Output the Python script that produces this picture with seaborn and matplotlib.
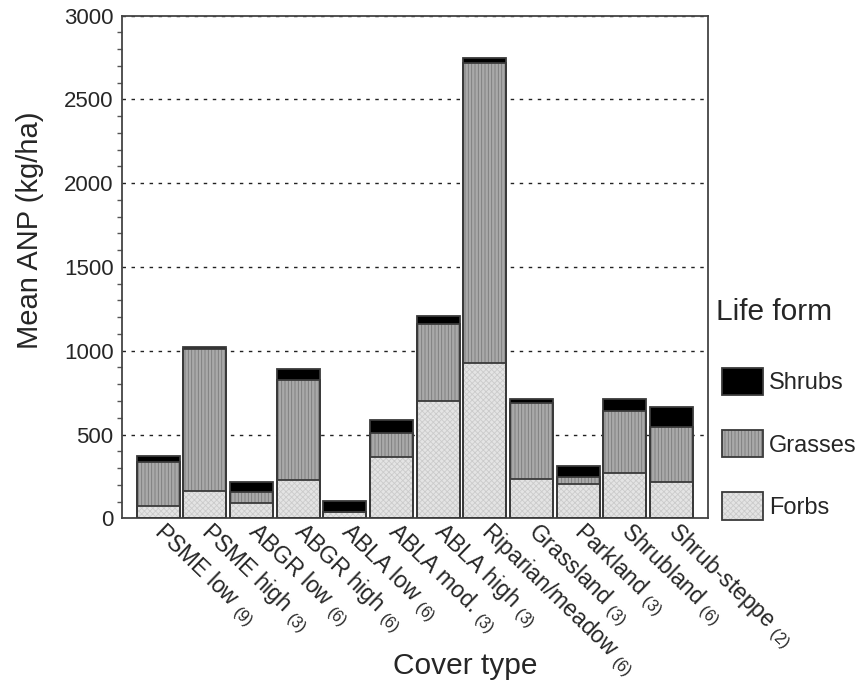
import pandas as pd
import matplotlib
matplotlib.use('Agg')
import matplotlib.pyplot as plt
import matplotlib.transforms as mtransforms
import seaborn as sns
from matplotlib.patches import Patch
from matplotlib.ticker import MultipleLocator
from matplotlib.legend_handler import HandlerTuple

# cover types and sample sizes
cover = ['PSME low', 'PSME high', 'ABGR low', 'ABGR high', 'ABLA low', 'ABLA mod.',
         'ABLA high', 'Riparian/meadow', 'Grassland', 'Parkland', 'Shrubland', 'Shrub-steppe']
n_plots = [9, 3, 6, 6, 6, 3, 3, 6, 3, 3, 6, 2]

# mean ANP by life form (kg/ha)
forbs = [76, 161, 89, 229, 36, 366, 700, 926, 237, 202, 270, 216]
grasses = [259, 847, 68, 594, 2, 144, 459, 1790, 452, 43, 370, 331]
shrubs = [37, 17, 59, 66, 67, 77, 51, 33, 21, 66, 70, 118]

df = pd.DataFrame({'cover': cover, 'forbs': forbs, 'grasses': grasses, 'shrubs': shrubs})
df['forbs_top'] = df['forbs']
df['grasses_top'] = df['forbs'] + df['grasses']
df['total'] = df['grasses_top'] + df['shrubs']

sns.set_style('white')
plt.rcParams['font.family'] = ['Liberation Sans', 'DejaVu Sans']
plt.rcParams['mathtext.fontset'] = 'custom'
plt.rcParams['mathtext.rm'] = 'Liberation Sans'
plt.rcParams['hatch.linewidth'] = 0.6

fig = plt.figure(figsize=(8.59, 6.82), dpi=100)
ax = fig.add_axes([0.1417, 0.2400, 0.6829, 0.7372])

outline = '#3a3a3a'
# (column, face colour, hatch colour, hatch) - drawn tallest first so they stack
layers = [('total', '#000000', '#000000', None),
          ('grasses_top', '#a9a9a9', '#7a7a7a', '|||||'),
          ('forbs_top', '#e4e4e4', '#cbcbcb', 'xxxxxx')]

for col, face, hcol, hatch in layers:
    sns.barplot(data=df, x='cover', y=col, color=face, saturation=1, width=0.92,
                edgecolor=hcol, linewidth=0, hatch=hatch, ax=ax, zorder=2)
    sns.barplot(data=df, x='cover', y=col, color=outline, saturation=1, width=0.92,
                fill=False, linewidth=1.3, ax=ax, zorder=3)

ax.set_xlim(-0.78, 11.79)
ax.set_ylim(0, 3000)
ax.yaxis.set_major_locator(MultipleLocator(500))
ax.yaxis.set_minor_locator(MultipleLocator(100))
ax.set_axisbelow(True)
ax.yaxis.grid(True, linestyle=(0, (2.5, 4)), color='#222222', linewidth=1.0)
ax.xaxis.grid(False)

ax.tick_params(axis='y', which='major', direction='out', length=5, width=1.5,
               color='#333333', labelsize=16, pad=1)
ax.tick_params(axis='y', which='minor', direction='out', length=3.5, width=1.0,
               color='#555555', left=True)
ax.tick_params(axis='x', direction='out', length=3.5, width=2.2, color='#222222',
               labelsize=16.5, pad=1)

labels = [f'{c} $_{{\\mathrm{{({n})}}}}$' for c, n in zip(cover, n_plots)]
ax.set_xticks(range(len(cover)))
ax.set_xticklabels(labels, rotation=-44, ha='left', va='top', rotation_mode='anchor')
# nudge labels so the text starts right at the tick dot
shift = mtransforms.ScaledTranslation(9 / 100, 6 / 100, fig.dpi_scale_trans)
for lab in ax.get_xticklabels():
    lab.set_transform(lab.get_transform() + shift)

for s in ax.spines.values():
    s.set_visible(True)
    s.set_color('#444444')
    s.set_linewidth(1.3)

ax.set_xlabel('Cover type', fontsize=21.5)
ax.set_ylabel('Mean ANP (kg/ha)', fontsize=21)
ax.xaxis.set_label_coords(0.585, -0.266)
ax.yaxis.set_label_coords(-0.1325, 0.573)

# legend with hatched swatches and dark outlines, title placed on its own
handles = []
for col, face, hcol, hatch in layers:
    fillp = Patch(facecolor=face, edgecolor=hcol, hatch=hatch, linewidth=0)
    edgep = Patch(facecolor='none', edgecolor=outline, linewidth=1.3)
    handles.append((fillp, edgep))
ax.legend(handles, ['Shrubs', 'Grasses', 'Forbs'], loc='upper left',
          bbox_to_anchor=(722 / 859, 1 - 368 / 682), bbox_transform=fig.transFigure,
          frameon=False, fontsize=17, handlelength=1.74, handleheight=1.4,
          labelspacing=1.48, handletextpad=0.25, borderpad=0, borderaxespad=0,
          handler_map={tuple: HandlerTuple(ndivide=1)})
fig.text(716 / 859, 1 - 312 / 682, 'Life form', fontsize=21.5, ha='left', va='center')

fig.savefig('out.png', dpi=100)
